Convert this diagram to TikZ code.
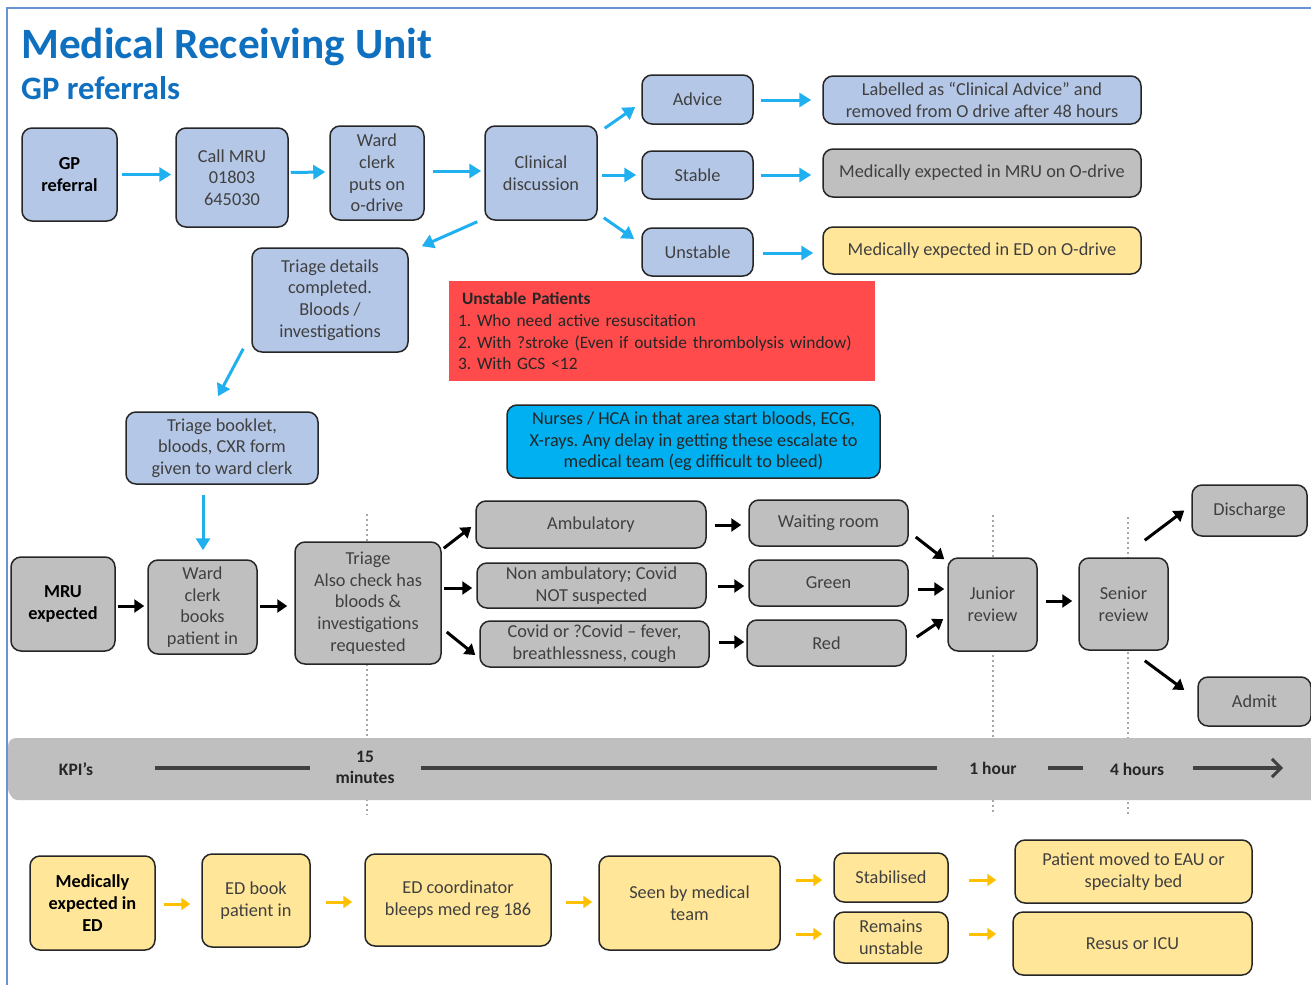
\documentclass[tikz,border=0pt]{standalone}
\usepackage{fontspec}
\setmainfont{Carlito}
\usetikzlibrary{arrows.meta,calc}
\frenchspacing
\definecolor{titleblue}{HTML}{1070C0}
\definecolor{boxblue}{HTML}{B4C7E7}
\definecolor{boxgray}{HTML}{BFBFBF}
\definecolor{boxyellow}{HTML}{FFE699}
\definecolor{arrowblue}{HTML}{20B0F0}
\definecolor{nurseblue}{HTML}{00B0F0}
\definecolor{redfill}{HTML}{FF4B4B}
\definecolor{arrowyellow}{HTML}{FFC000}
\definecolor{frameblue}{HTML}{6A93D4}
\definecolor{txt}{HTML}{404040}
\begin{document}
\begin{tikzpicture}[x=1pt,y=-1pt,
  font=\fontsize{18.3}{21.7}\selectfont,
  box/.style={draw=black!85, line width=1.5pt, rounded corners=10pt, align=center, inner sep=2pt, text=txt},
  bbox/.style={box, fill=boxblue},
  gbox/.style={box, fill=boxgray},
  ybox/.style={box, fill=boxyellow},
  bold/.style={font=\fontsize{18.3}{21.7}\selectfont\bfseries, text=black},
  barrow/.style={draw=arrowblue, line width=3pt, -{Triangle[length=12pt,width=14pt]}},
  karrow/.style={draw=black, line width=3pt, -{Triangle[length=10pt,width=13pt]}},
  yarrow/.style={draw=arrowyellow, line width=3pt, -{Triangle[length=9pt,width=12pt]}},
  dotline/.style={draw=black!35, line width=2pt, dash pattern=on 2pt off 3pt},
  kpiline/.style={draw=black!75, line width=4pt},
  kpitxt/.style={font=\fontsize{17.5}{21}\selectfont\bfseries, text=black!85, align=center, inner sep=0pt}
]
\useasboundingbox (0,0) rectangle (1311,985);
\fill[white] (0,0) rectangle (1311,985);
% frame
\draw[frameblue, line width=1.5pt] (7,985) -- (7,8) -- (1311,8);

% titles
\node[anchor=base west, inner sep=0pt, font=\fontsize{43.3}{46}\selectfont\bfseries, text=titleblue] (title) at (21,58) {Medical Receiving Unit};
\node[anchor=base west, inner sep=0pt, font=\fontsize{32.7}{36}\selectfont\bfseries, text=titleblue] (sub) at (21,99) {GP referrals};

% dotted guide lines
\draw[dotline] (367,514) -- (367,815);
\draw[dotline] (993,515) -- (993,815);
\draw[dotline] (1128,517) -- (1128,815);

% ---- top (GP referrals) ----
\node[bbox, bold, minimum width=95pt, minimum height=93pt] (gp) at (69.5,174.5) {GP\\referral};
\node[bbox, minimum width=112pt, minimum height=99pt] (call) at (232,177.5) {Call MRU\\01803\\645030};
\node[bbox, minimum width=94pt, minimum height=94pt] (ward1) at (377,173) {Ward\\clerk\\puts on\\o-drive};
\node[bbox, minimum width=112pt, minimum height=94pt] (clin) at (541,173) {Clinical\\discussion};
\node[bbox, minimum width=111pt, minimum height=49pt] (adv) at (697.5,99.5) {Advice};
\node[bbox, minimum width=111pt, minimum height=48pt] (stab) at (697.5,175) {Stable};
\node[bbox, minimum width=111pt, minimum height=48pt] (unst) at (697.5,252) {Unstable};
\node[bbox, minimum width=318pt, minimum height=48pt] (lab) at (982,100) {Labelled as ``Clinical Advice'' and\\removed from O drive after 48 hours};
\node[gbox, minimum width=318pt, minimum height=48pt] (mrue) at (982,173) {Medically expected in MRU on O-drive};
\node[ybox, minimum width=318pt, minimum height=47pt] (ede) at (982,250.5) {Medically expected in ED on O-drive};
\node[bbox, minimum width=156pt, minimum height=104pt] (tdet) at (330,300) {Triage details\\completed.\\Bloods /\\investigations};
\node[fill=redfill, minimum width=426pt, minimum height=100pt, text width=408pt, inner xsep=9pt, align=left, text=black!85,
      font=\fontsize{17.4}{21.9}\selectfont] (red) at (662,331)
  {\hspace*{4pt}\textbf{Unstable Patients}\\1. Who need active resuscitation\\2. With ?stroke (Even if outside thrombolysis window)\\3. With GCS {<}12};
\node[box, fill=nurseblue, text=black!85, minimum width=373pt, minimum height=73pt] (nurse) at (693.5,441.5)
  {Nurses / HCA in that area start bloods, ECG,\\X-rays. Any delay in getting these escalate to\\medical team (eg difficult to bleed)};
\node[bbox, minimum width=192pt, minimum height=72pt] (book) at (222,448) {Triage booklet,\\bloods, CXR form\\given to ward clerk};

% blue arrows
\draw[barrow, shorten <=4pt, shorten >=4pt] (gp.east) -- (gp.east -| call.west);
\draw[barrow] ($(call.east)+(2,-5)$) -- ($(ward1.west)+(-4,-1)$);
\draw[barrow] ($(ward1.east)+(8,-2)$) -- ($(clin.west)+(-3,-2)$);
\draw[barrow] ($(clin.north east)+(7,3)$) -- ($(adv.west)+(-6,7.5)$);
\draw[barrow] ($(clin.east)+(4,2)$) -- ($(stab.west)+(-5,0)$);
\draw[barrow] ($(clin.south east)+(6,-3)$) -- ($(unst.west)+(-7,-13)$);
\draw[barrow] ($(adv.east)+(7,0.5)$) -- ($(lab.west)+(-11,0)$);
\draw[barrow] ($(stab.east)+(7,0)$) -- ($(stab.east -| mrue.west)+(-11,0)$);
\draw[barrow] ($(unst.east)+(9,1)$) -- ($(unst.east -| ede.west)+(-9,1)$);
\draw[barrow] ($(clin.south west)+(-7,1)$) -- ($(tdet.north east)+(13,-1)$);
\draw[barrow] ($(tdet.south west)+(-8,-4)$) -- ($(book.north)+(-4,-15)$);

% ---- middle (MRU expected) ----
\node[gbox, bold, minimum width=104pt, minimum height=94pt] (mru) at (63,604) {MRU\\expected};
\node[gbox, minimum width=109pt, minimum height=94pt] (ward2) at (202.5,607) {Ward\\clerk\\books\\patient in};
\node[gbox, minimum width=146pt, minimum height=122pt] (triage) at (368,603) {Triage\\Also check has\\bloods \&\\investigations\\requested};
\node[gbox, minimum width=230pt, minimum height=47pt] (amb) at (591,524.5) {Ambulatory};
\node[gbox, minimum width=229pt, minimum height=45pt] (non) at (591.5,585.5) {Non ambulatory; Covid\\NOT suspected};
\node[gbox, minimum width=229pt, minimum height=46pt] (cov) at (594.5,644) {Covid or ?Covid -- fever,\\breathlessness, cough};
\node[gbox, minimum width=159pt, minimum height=46pt] (wait) at (828.5,523) {Waiting room};
\node[gbox, minimum width=159pt, minimum height=46pt] (green) at (828.5,583) {Green};
\node[gbox, minimum width=159pt, minimum height=46pt] (redn) at (826.5,643) {Red};
\node[gbox, minimum width=89pt, minimum height=93pt] (jun) at (992.5,604.5) {Junior\\review};
\node[gbox, minimum width=89pt, minimum height=92pt] (sen) at (1123.5,604) {Senior\\review};
\node[gbox, minimum width=115pt, minimum height=51pt] (dis) at (1249.5,510.5) {Discharge};
\node[gbox, minimum width=113pt, minimum height=49pt] (adm) at (1254.5,701.5) {Admit};

\draw[barrow] ($(book.south)+(-19,10)$) -- ($(ward2.north)+(0.5,-9)$);

% black arrows
\draw[karrow] ($(mru.east)+(2,2)$) -- ($(ward2.west)+(-3,-1)$);
\draw[karrow] ($(ward2.east)+(2,-1)$) -- ($(triage.west)+(-7,3)$);
\draw[karrow] ($(triage.north east)+(2,7)$) -- ($(amb.west)+(-4,2.5)$);
\draw[karrow] ($(triage.east)+(2,-15)$) -- ($(non.west)+(-4,2.5)$);
\draw[karrow] ($(triage.east)+(5,29)$) -- ($(cov.west)+(-4,11)$);
\draw[karrow] ($(amb.east)+(8,0.5)$) -- ($(wait.west)+(-7,2)$);
\draw[karrow] ($(non.east)+(11,0.5)$) -- ($(green.west)+(-4,3)$);
\draw[karrow] ($(cov.east)+(9,-2)$) -- ($(redn.west)+(-2,-1)$);
\draw[karrow] ($(wait.east)+(7,14)$) -- ($(jun.north west)+(-3,2)$);
\draw[karrow] ($(green.east)+(9,6)$) -- ($(jun.west)+(-3,-15.5)$);
\draw[karrow] ($(redn.east)+(10,-6)$) -- ($(jun.west)+(-4,14.5)$);
\draw[karrow] ($(jun.east)+(8,-3.5)$) -- ($(sen.west)+(-6,-3)$);
\draw[karrow] ($(sen.north east)+(-24,-17)$) -- ($(dis.west)+(-7,0)$);
\draw[karrow] ($(sen.south east)+(-24,10)$) -- ($(adm.west)+(-13,-11.5)$);

% ---- KPI bar ----
\fill[black!25, rounded corners=8pt] (10,741) rectangle (1322,800);
\fill[boxgray, rounded corners=8pt] (8,738) rectangle (1320,797);
\node[kpitxt] (kpi) at (76,769) {KPI's};
\node[kpitxt] (m15) at (365,767) {15\\minutes};
\node[kpitxt] (h1) at (993,768) {1 hour};
\node[kpitxt] (h4) at (1137,769) {4 hours};
\coordinate (k1a) at (155,768); \coordinate (k1b) at (310,768);
\coordinate (k2a) at (421,768); \coordinate (k2b) at (937,768);
\coordinate (k3a) at (1048,768); \coordinate (k3b) at (1083,768);
\coordinate (k4a) at (1193,768); \coordinate (k4b) at (1283,768);
\draw[kpiline] (k1a) -- (k1b);
\draw[kpiline] (k2a) -- (k2b);
\draw[kpiline] (k3a) -- (k3b);
\draw[kpiline, -{Straight Barb[length=9pt,width=18pt,line width=3pt]}] (k4a) -- (k4b);

% ---- bottom (ED) ----
\node[ybox, bold, minimum width=125pt, minimum height=94pt] (meded) at (92.5,903) {Medically\\expected in\\ED};
\node[ybox, minimum width=108pt, minimum height=93pt] (edbook) at (256,900.5) {ED book\\patient in};
\node[ybox, minimum width=186pt, minimum height=92pt] (edcoord) at (458,900) {ED coordinator\\bleeps med reg 186};
\node[ybox, minimum width=181pt, minimum height=94pt] (seen) at (689.5,903) {Seen by medical\\team};
\node[ybox, minimum width=114pt, minimum height=49pt] (stabl) at (891,877.5) {Stabilised};
\node[ybox, minimum width=114pt, minimum height=51pt] (remain) at (891,937.5) {Remains\\unstable};
\node[ybox, minimum width=237pt, minimum height=63pt] (moved) at (1133.5,871.5) {Patient moved to EAU or\\specialty bed};
\node[ybox, minimum width=239pt, minimum height=63pt] (resus) at (1132.5,943.5) {Resus or ICU};

\draw[yarrow] ($(meded.east)+(8,1)$) -- ($(edbook.west)+(-11,3.5)$);
\draw[yarrow] ($(edbook.east)+(15,1.5)$) -- ($(edcoord.west)+(-12,2)$);
\draw[yarrow] ($(edcoord.east)+(14,2)$) -- ($(seen.west)+(-6,-1)$);
\draw[yarrow] ($(seen.east)+(15,-23)$) -- ($(stabl.west)+(-11,2.5)$);
\draw[yarrow] ($(seen.east)+(15,31)$) -- ($(remain.west)+(-11,-3.5)$);
\draw[yarrow] ($(stabl.east)+(20,2.5)$) -- ($(moved.west)+(-18,8.5)$);
\draw[yarrow] ($(remain.east)+(20,-3.5)$) -- ($(resus.west)+(-16,-9.5)$);
\end{tikzpicture}
\end{document}
